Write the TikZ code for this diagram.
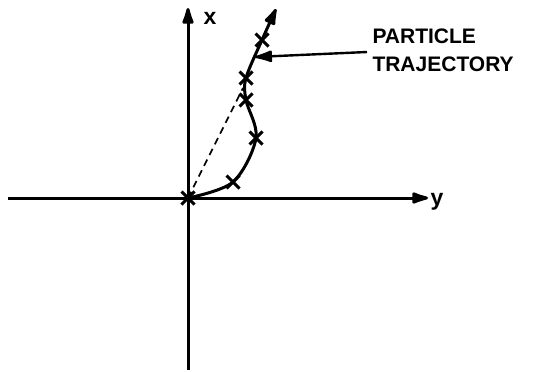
\documentclass[tikz,border=0pt]{standalone}
\usepackage{fontspec}
\setmainfont{Liberation Sans}
\usetikzlibrary{arrows.meta,shapes.misc}
\begin{document}
\begin{tikzpicture}[x=1pt,y=-1pt,
  line width=3pt,
  tip/.style={-{Latex[length=22pt,width=13pt,round]}},
  xmark/.style={cross out,draw,line width=3pt,minimum size=10pt,inner sep=0pt},
  lab/.style={font=\bfseries\fontsize{21}{28}\selectfont,inner sep=0pt,align=left},
  axlab/.style={font=\bfseries\fontsize{23}{23}\selectfont,inner sep=0pt}]
\useasboundingbox (0,0) rectangle (538,372);
% axes
\coordinate (O) at (188,198);
\coordinate (xbot) at (188,370);
\coordinate (xtop) at (188,8);
\coordinate (yleft) at (8,198);
\coordinate (yright) at (428,198);
\draw[tip] (xbot) -- (xtop);
\draw[tip] (yleft) -- (yright);
\node[axlab,anchor=base] (xl) at (210,24) {x};
\node[axlab,anchor=base] (yl) at (437,205) {y};
% trajectory
\coordinate (p0) at (188,198);
\coordinate (p1) at (233,182);
\coordinate (p2) at (256,138);
\coordinate (p3) at (246,100);
\coordinate (p4) at (246,78);
\coordinate (p5) at (262,40);
\coordinate (p6) at (276,9);
\draw[tip] plot[smooth,tension=0.55] coordinates {(p0) (p1) (p2) (p3) (p4) (p5) (p6)};
\draw[dashed,line width=1.6pt,dash pattern=on 7pt off 5pt] (O) -- (243,88);
\foreach \i in {0,...,5} \node[xmark] (c\i) at (p\i) {};
% label
\node[lab,anchor=north west] (lbl) at (371,27) {PARTICLE\\TRAJECTORY};
\coordinate (hit) at (255,57);
\draw[tip,line width=2.4pt] (367,52) -- (hit);
\end{tikzpicture}
\end{document}
